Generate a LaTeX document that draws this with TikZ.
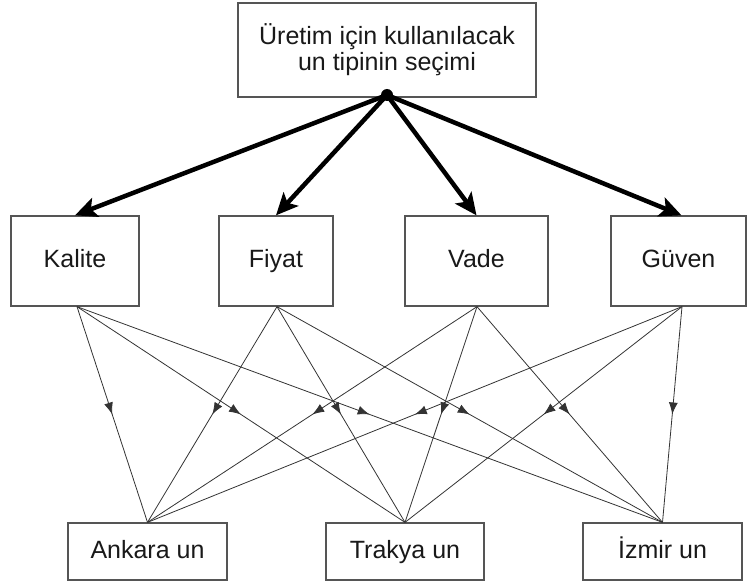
\documentclass[tikz,border=0pt]{standalone}
\usepackage{fontspec}
\setmainfont{Liberation Sans}
\usetikzlibrary{arrows.meta,decorations.markings}
\definecolor{boxline}{HTML}{555555}
\definecolor{thinline}{HTML}{333333}
\tikzset{
  box/.style={draw=boxline, line width=1.3pt, fill=white, inner sep=0pt,
              font=\fontsize{25}{26}\selectfont, text=black!90},
  onebox/.style={box, text height=18pt, text depth=5pt},
  bigarrow/.style={line width=4.5pt, -{Stealth[length=22pt,width=20pt,inset=5pt]}},
  linkline/.style={draw=thinline, line width=0.8pt, postaction={decorate},
     decoration={markings, mark=at position 0.5 with {\arrow{Latex[length=12pt,width=9pt]}}}}
}
\begin{document}
\begin{tikzpicture}[x=1pt,y=-1pt]
\useasboundingbox (0,0) rectangle (747,583);
% top
\node[box, minimum width=298pt, minimum height=94pt, align=center] (top) at (387,50)
  {Üretim için kullanılacak\\un tipinin seçimi};
% criteria
\node[onebox, minimum width=128pt, minimum height=90pt] (kal) at (75,261) {Kalite};
\node[onebox, minimum width=114pt, minimum height=90pt] (fiy) at (276,261) {Fiyat};
\node[onebox, minimum width=143pt, minimum height=90pt] (vad) at (476.5,261) {Vade};
\node[onebox, minimum width=135pt, minimum height=90pt] (guv) at (678.5,261) {Güven};
% alternatives
\node[onebox, minimum width=159pt, minimum height=57pt] (ank) at (147.5,551.5) {Ankara un};
\node[onebox, minimum width=158pt, minimum height=57pt] (tra) at (405,551.5) {Trakya un};
\node[onebox, minimum width=159pt, minimum height=57pt] (izm) at (662.5,551.5) {İzmir un};
% hub
\coordinate (hub) at (387,95);
\fill[black] (hub) circle (6pt);
\draw[bigarrow] (hub) -- (kal.north);
\draw[bigarrow] (hub) -- (fiy.north);
\draw[bigarrow] (hub) -- (vad.north);
\draw[bigarrow] (hub) -- ([xshift=3pt]guv.north);
% links
\coordinate (kb) at ([xshift=2pt]kal.south);
\coordinate (fb) at ([xshift=1pt]fiy.south);
\coordinate (vb) at ([xshift=0.5pt]vad.south);
\coordinate (gb) at ([xshift=3.5pt]guv.south);
\foreach \s in {kb,fb,vb,gb}{
  \foreach \t in {ank,tra,izm}{
    \draw[linkline] (\s) -- (\t.north);
  }
}
\end{tikzpicture}
\end{document}
